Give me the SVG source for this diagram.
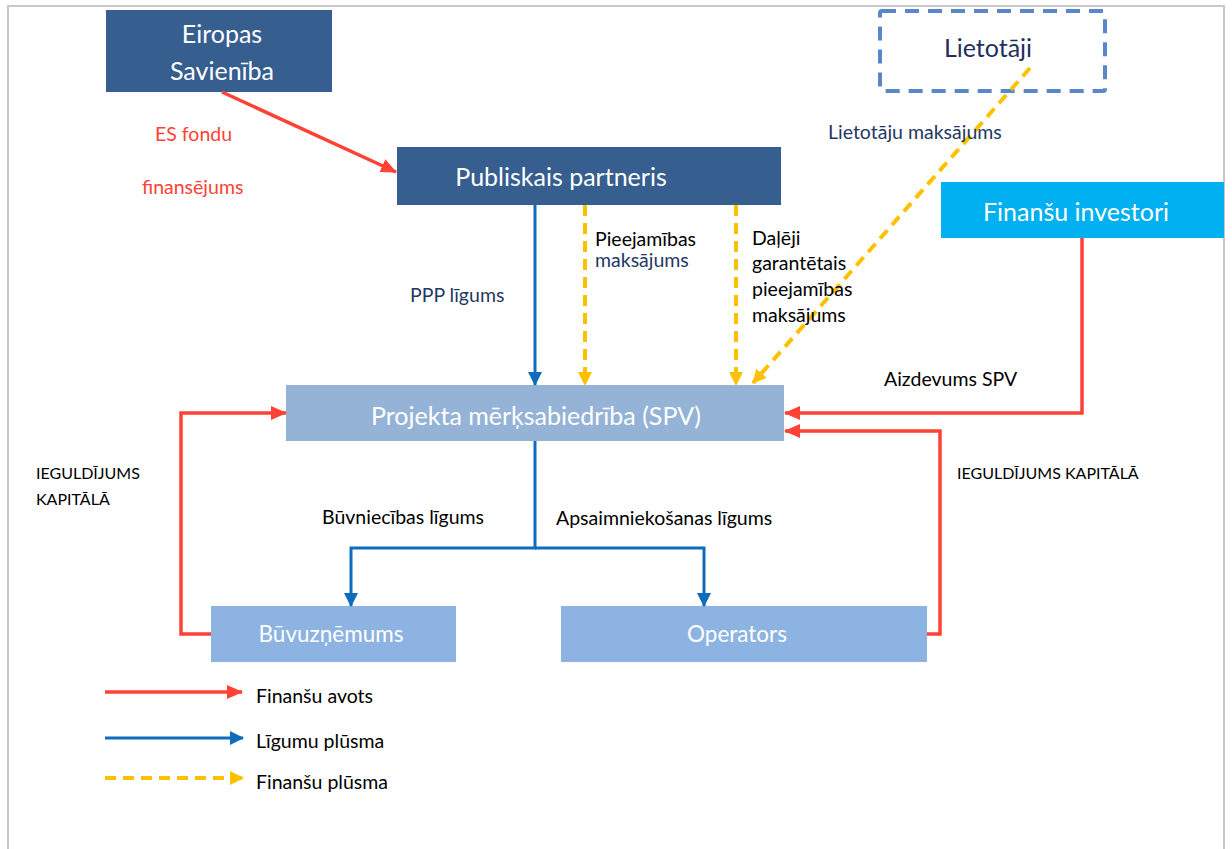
<svg xmlns="http://www.w3.org/2000/svg" width="1232" height="849" viewBox="0 0 1232 849">
  <style>
    text { font-family: Lato, "Open Sans", "Liberation Sans", sans-serif; }
    .box-text { fill: #ffffff; font-size: 25px; text-anchor: middle; }
    .lbl { font-size: 19.5px; fill: #000000; }
    .lbl-navy { font-size: 19.5px; fill: #1F3864; }
    .lbl-red { font-size: 19.5px; fill: #FF4136; }
    .lbl-small { font-size: 16px; fill: #000000; }
    .fin { fill: none; stroke: #FF4136; stroke-width: 3.5; }
    .con { fill: none; stroke: #0F6CBD; stroke-width: 3; }
    .flow { fill: none; stroke: #FFC000; stroke-width: 4; stroke-dasharray: 11 7; }
  </style>
  <defs>
    <marker id="arr-red" markerUnits="userSpaceOnUse" markerWidth="16" markerHeight="14" refX="15" refY="7" orient="auto">
      <path d="M0,0 L16,7 L0,14 Z" fill="#FF4136"/>
    </marker>
    <marker id="arr-blue" markerUnits="userSpaceOnUse" markerWidth="14" markerHeight="14" refX="13" refY="7" orient="auto">
      <path d="M0,0 L14,7 L0,14 Z" fill="#0F6CBD"/>
    </marker>
    <marker id="arr-yellow" markerUnits="userSpaceOnUse" markerWidth="14" markerHeight="14" refX="13" refY="7" orient="auto">
      <path d="M0,0 L14,7 L0,14 Z" fill="#FFC000"/>
    </marker>
  </defs>

  <rect width="1232" height="849" fill="#ffffff"/>
  <!-- page frame -->
  <path d="M8,849 V6 H1224 V849" fill="none" stroke="#C8C8C8" stroke-width="2"/>

  <!-- nodes -->
  <g id="node-eu">
    <rect x="106" y="10" width="226" height="82" fill="#365E8F"/>
    <text class="box-text" x="222" y="43">Eiropas</text>
    <text class="box-text" x="222" y="80">Savienība</text>
  </g>
  <g id="node-users">
    <rect x="880" y="11" width="225" height="80" fill="none" stroke="#5A87CA" stroke-width="4" stroke-dasharray="14 9" rx="2"/>
    <text class="box-text" x="988" y="57" style="fill:#1F3060">Lietotāji</text>
  </g>
  <g id="node-public">
    <rect x="397" y="147" width="384" height="58" fill="#365E8F"/>
    <text class="box-text" x="561" y="186">Publiskais partneris</text>
  </g>
  <g id="node-investors">
    <rect x="941" y="182" width="283" height="56" fill="#00B0F0"/>
    <text class="box-text" x="1076" y="221">Finanšu investori</text>
  </g>
  <g id="node-spv">
    <rect x="286" y="385" width="498" height="56" fill="#95B3D7"/>
    <text class="box-text" x="536" y="425">Projekta mērķsabiedrība (SPV)</text>
  </g>
  <g id="node-builder">
    <rect x="211" y="606" width="245" height="56" fill="#8DB3E2"/>
    <text class="box-text" x="331" y="642" style="font-size:22.5px">Būvuzņēmums</text>
  </g>
  <g id="node-operator">
    <rect x="561" y="606" width="366" height="56" fill="#8DB3E2"/>
    <text class="box-text" x="737" y="642" style="font-size:22.5px">Operators</text>
  </g>

  <!-- connectors -->
  <g id="connectors">
    <!-- funding sources -->
    <line class="fin" x1="222" y1="92" x2="396" y2="172" marker-end="url(#arr-red)"/>
    <polyline class="fin" points="1082,238 1082,413 785,413" marker-end="url(#arr-red)"/>
    <polyline class="fin" points="927,634 940,634 940,431 785,431" marker-end="url(#arr-red)"/>
    <polyline class="fin" points="211,634 181,634 181,413 286,413" marker-end="url(#arr-red)"/>

    <!-- contract flows -->
    <line class="con" x1="535" y1="205" x2="535" y2="385" marker-end="url(#arr-blue)"/>
    <polyline class="con" points="535,441 535,548 351,548 351,606" marker-end="url(#arr-blue)"/>
    <polyline class="con" points="535,548 704,548 704,606" marker-end="url(#arr-blue)"/>

    <!-- payment flows -->
    <line class="flow" x1="585" y1="205" x2="585" y2="385" marker-end="url(#arr-yellow)"/>
    <line class="flow" x1="736" y1="205" x2="736" y2="385" marker-end="url(#arr-yellow)"/>
    <line class="flow" x1="1030" y1="68" x2="753" y2="383" marker-end="url(#arr-yellow)"/>
  </g>

  <!-- connector labels -->
  <g id="labels">
    <text class="lbl-red" x="155" y="141">ES fondu</text>
    <text class="lbl-red" x="142" y="194">finansējums</text>
    <text class="lbl-navy" x="828" y="139">Lietotāju maksājums</text>
    <text class="lbl-navy" x="410" y="302">PPP līgums</text>
    <text class="lbl" x="595" y="246">Pieejamības</text>
    <text class="lbl-navy" x="595" y="267">maksājums</text>
    <text class="lbl" x="752" y="245">Daļēji</text>
    <text class="lbl" x="752" y="270">garantētais</text>
    <text class="lbl" x="752" y="296">pieejamības</text>
    <text class="lbl" x="752" y="322">maksājums</text>
    <text class="lbl" x="884" y="386">Aizdevums SPV</text>
    <text class="lbl-small" x="36" y="479">IEGULDĪJUMS</text>
    <text class="lbl-small" x="36" y="505">KAPITĀLĀ</text>
    <text class="lbl-small" x="957" y="479">IEGULDĪJUMS KAPITĀLĀ</text>
    <text class="lbl" x="322" y="524">Būvniecības līgums</text>
    <text class="lbl" x="556" y="525">Apsaimniekošanas līgums</text>
  </g>

  <!-- legend -->
  <g id="legend">
    <line class="fin" x1="105" y1="692" x2="242" y2="692" marker-end="url(#arr-red)"/>
    <text class="lbl" x="256" y="703">Finanšu avots</text>
    <line class="con" x1="105" y1="738" x2="243" y2="738" marker-end="url(#arr-blue)"/>
    <text class="lbl" x="256" y="748">Līgumu plūsma</text>
    <line class="flow" x1="105" y1="778" x2="243" y2="778" marker-end="url(#arr-yellow)"/>
    <text class="lbl" x="256" y="789">Finanšu plūsma</text>
  </g>
</svg>
